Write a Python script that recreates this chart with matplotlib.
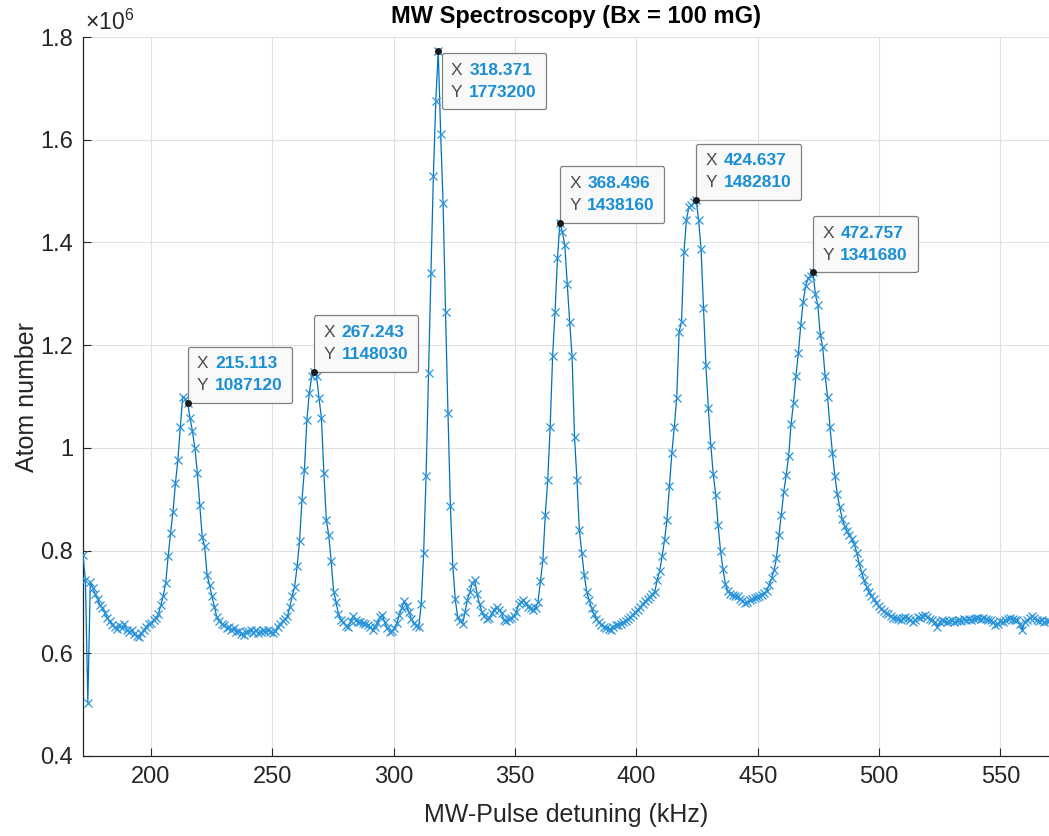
"""
MW spectroscopy scan, Bx = 100 mG -- atom number vs. MW pulse detuning
"""

import numpy as np
import matplotlib
matplotlib.use('Agg')
from matplotlib import pyplot as plt
from matplotlib.ticker import FuncFormatter, MultipleLocator
from matplotlib.offsetbox import TextArea, HPacker, VPacker, AnnotationBbox

plt.rcParams['font.family'] = ['Liberation Sans', 'DejaVu Sans']
plt.rcParams['mathtext.fontset'] = 'custom'
plt.rcParams['mathtext.rm'] = 'Liberation Sans'

# scan grid (kHz), 398 points from 172 to 570
detuning = np.linspace(172, 570, 398)

# atom number in units of 1e6
atoms_e6 = [
    0.792, 0.742, 0.504, 0.738, 0.728, 0.716, 0.705, 0.694, 0.688, 0.679,
    0.668, 0.662, 0.656, 0.651, 0.648, 0.655, 0.649, 0.657, 0.645, 0.642,
    0.646, 0.637, 0.634, 0.631, 0.640, 0.645, 0.652, 0.657, 0.659, 0.664,
    0.668, 0.676, 0.694, 0.712, 0.737, 0.789, 0.834, 0.876, 0.931, 0.977,
    1.041, 1.100, 1.095, 1.08712, 1.058, 1.032, 0.999, 0.951, 0.889, 0.827,
    0.808, 0.753, 0.733, 0.711, 0.691, 0.670, 0.662, 0.657, 0.655, 0.650,
    0.652, 0.646, 0.649, 0.642, 0.643, 0.637, 0.636, 0.641, 0.643, 0.646,
    0.640, 0.645, 0.639, 0.642, 0.645, 0.643, 0.645, 0.641, 0.640, 0.643,
    0.652, 0.657, 0.662, 0.666, 0.672, 0.690, 0.712, 0.730, 0.769, 0.818,
    0.899, 0.957, 1.054, 1.106, 1.139, 1.14803, 1.139, 1.097, 1.058, 0.951,
    0.860, 0.830, 0.780, 0.720, 0.700, 0.676, 0.665, 0.660, 0.654, 0.652,
    0.662, 0.672, 0.664, 0.661, 0.660, 0.659, 0.658, 0.656, 0.651, 0.646,
    0.652, 0.659, 0.670, 0.675, 0.660, 0.650, 0.642, 0.643, 0.649, 0.659,
    0.674, 0.689, 0.701, 0.692, 0.680, 0.666, 0.659, 0.654, 0.652, 0.695,
    0.795, 0.945, 1.145, 1.340, 1.530, 1.675, 1.7732, 1.611, 1.476, 1.264,
    1.068, 0.886, 0.769, 0.705, 0.670, 0.662, 0.658, 0.680, 0.704, 0.720,
    0.737, 0.742, 0.715, 0.695, 0.680, 0.672, 0.666, 0.668, 0.678, 0.685,
    0.691, 0.684, 0.678, 0.665, 0.663, 0.667, 0.669, 0.672, 0.680, 0.695,
    0.700, 0.704, 0.697, 0.691, 0.688, 0.685, 0.689, 0.700, 0.740, 0.782,
    0.870, 0.938, 1.041, 1.178, 1.265, 1.369, 1.43816, 1.421, 1.395, 1.320,
    1.246, 1.178, 1.022, 0.938, 0.840, 0.795, 0.753, 0.720, 0.704, 0.688,
    0.676, 0.666, 0.661, 0.656, 0.652, 0.650, 0.647, 0.646, 0.651, 0.656,
    0.655, 0.658, 0.660, 0.663, 0.667, 0.671, 0.675, 0.680, 0.685, 0.690,
    0.696, 0.701, 0.706, 0.710, 0.715, 0.720, 0.743, 0.760, 0.789, 0.820,
    0.860, 0.925, 0.990, 1.040, 1.097, 1.226, 1.246, 1.382, 1.444, 1.469,
    1.472, 1.478, 1.48281, 1.444, 1.388, 1.272, 1.161, 1.077, 1.006, 0.950,
    0.909, 0.850, 0.800, 0.765, 0.735, 0.722, 0.716, 0.714, 0.712, 0.711,
    0.706, 0.701, 0.698, 0.700, 0.703, 0.705, 0.707, 0.709, 0.711, 0.714,
    0.717, 0.722, 0.733, 0.746, 0.762, 0.785, 0.830, 0.870, 0.915, 0.947,
    0.984, 1.046, 1.088, 1.140, 1.185, 1.240, 1.285, 1.316, 1.330, 1.335,
    1.34168, 1.299, 1.278, 1.220, 1.196, 1.140, 1.100, 1.040, 0.990, 0.945,
    0.910, 0.885, 0.862, 0.848, 0.838, 0.830, 0.822, 0.812, 0.796, 0.775,
    0.758, 0.742, 0.730, 0.720, 0.712, 0.705, 0.698, 0.692, 0.687, 0.683,
    0.679, 0.676, 0.672, 0.669, 0.668, 0.666, 0.664, 0.668, 0.671, 0.669,
    0.664, 0.661, 0.665, 0.670, 0.668, 0.672, 0.675, 0.671, 0.667, 0.664,
    0.660, 0.652, 0.660, 0.665, 0.663, 0.660, 0.662, 0.664, 0.660, 0.662,
    0.665, 0.663, 0.666, 0.664, 0.666, 0.665, 0.667, 0.669, 0.668, 0.666,
    0.669, 0.667, 0.665, 0.664, 0.660, 0.656, 0.658, 0.662, 0.660, 0.664,
    0.667, 0.669, 0.666, 0.664, 0.665, 0.658, 0.645, 0.660, 0.665, 0.668,
    0.672, 0.669, 0.664, 0.662, 0.665, 0.660, 0.663, 0.662,
]
atoms = np.array(atoms_e6) * 1e6

# data tips shown on the figure
tip_x = [215.113, 267.243, 318.371, 368.496, 424.637, 472.757]
tip_y = [1087120, 1148030, 1773200, 1438160, 1482810, 1341680]

fig = plt.figure(figsize=(10.49, 8.36), dpi=100)
ax = fig.add_axes([0.0791, 0.0957, 0.9209, 0.860])

ax.plot(detuning, atoms, '-', color='#0072BD', lw=0.9, zorder=3)
ax.plot(detuning, atoms, 'x', color='#2b95da', ms=5.5, mew=0.9, zorder=3)

ax.set_xlim(172, 570)
ax.set_ylim(0.4e6, 1.8e6)
ax.xaxis.set_major_locator(MultipleLocator(50))
ax.yaxis.set_major_locator(MultipleLocator(0.2e6))
ax.yaxis.set_major_formatter(FuncFormatter(lambda v, p: '%g' % (v / 1e6)))

ax.grid(True, color='#e0e0e0', lw=0.8, zorder=0)
ax.set_axisbelow(True)
for s in ['top', 'right']:
    ax.spines[s].set_visible(False)
for s in ['left', 'bottom']:
    ax.spines[s].set_color('#262626')
    ax.spines[s].set_linewidth(0.9)
ax.tick_params(direction='in', length=6, width=0.8, colors='#262626',
               labelsize=17, pad=7)

ax.text(0.002, 1.003, r'$\mathregular{\times10^{6}}$', transform=ax.transAxes,
        ha='left', va='bottom', fontsize=16.5, color='#262626')

ax.set_title('MW Spectroscopy (Bx = 100 mG)', fontsize=17, fontweight='bold',
             color='black', pad=10, x=0.51)
ax.set_xlabel('MW-Pulse detuning (kHz)', fontsize=18, color='#262626', labelpad=11)
ax.set_ylabel('Atom number', fontsize=18, color='#262626', labelpad=1)

# data tips
PAD = 0.7  # in units of the 10 pt box font size
for tx, ty in zip(tip_x, tip_y):
    ax.plot(tx, ty, 'o', color='#1a1a1a', ms=4, zorder=6)
    rows = []
    for lab, val in [('X', '%g' % tx), ('Y', '%d' % ty)]:
        rows.append(HPacker(children=[
            TextArea(lab + ' ', textprops=dict(color='#4d4d4d', fontsize=12.5)),
            TextArea(val, textprops=dict(color='#1a8fd6', fontsize=12.5,
                                         fontweight='bold'))],
            align='baseline', pad=0, sep=1))
    box = VPacker(children=rows, align='left', pad=0, sep=5)
    p = PAD * 10
    if ty > 1.7e6:
        align, off = (0, 1), (p + 2.5, -p - 1.5)
    else:
        align, off = (0, 0), (p, p)
    ab = AnnotationBbox(box, (tx, ty), xybox=off, boxcoords='offset points',
                        box_alignment=align, pad=PAD, frameon=True,
                        bboxprops=dict(edgecolor='#808080', facecolor='#f9f9f9',
                                       lw=0.9,
                                       boxstyle='round,pad=%g,rounding_size=0.15' % PAD),
                        zorder=5)
    ax.add_artist(ab)

fig.savefig('out.png', dpi=100)
